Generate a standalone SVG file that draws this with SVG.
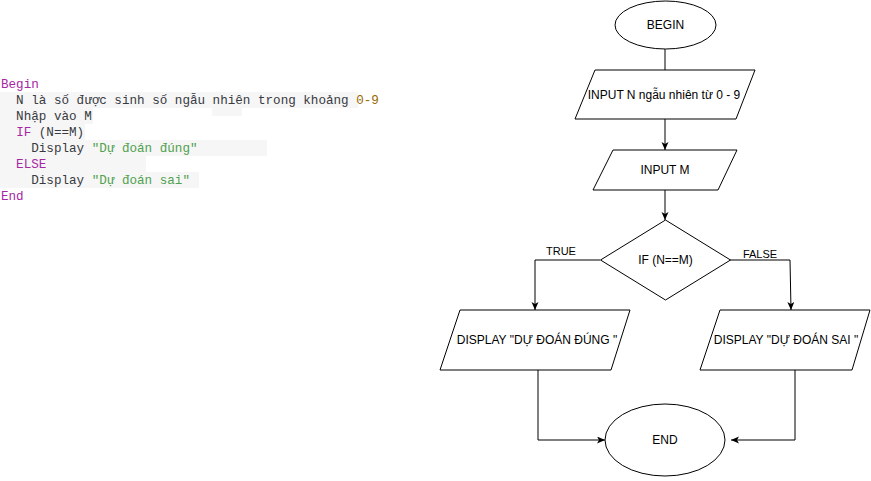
<svg xmlns="http://www.w3.org/2000/svg" width="871" height="481" viewBox="0 0 871 481">
<style>
.code{font-family:"Liberation Mono","DejaVu Sans Mono",monospace;font-size:12.6px;fill:#383a42;white-space:pre}
.kw{fill:#a626a4}.str{fill:#50a14f}.num{fill:#986801}
.bg{fill:#f6f6f6}
.shape{fill:#ffffff;stroke:#000000;stroke-width:1}
.lbl{font-family:"Liberation Sans",Arial,sans-serif;font-size:12px;fill:#000000;text-anchor:middle}
.edge{fill:none;stroke:#000000;stroke-width:1}
.elbl{font-family:"Liberation Sans",Arial,sans-serif;font-size:11px;fill:#000000;text-anchor:middle}
</style>
<defs>
<marker id="arr" markerUnits="userSpaceOnUse" markerWidth="10" markerHeight="10" refX="8" refY="3.5" orient="auto">
<path d="M0,0 L8,3.5 L0,7 L2,3.5 z" fill="#000000"/>
</marker>
</defs>
<rect width="871" height="481" fill="#ffffff"/>
<g id="pseudocode">
<rect class="bg" x="0" y="92" width="358" height="16"/>
<rect class="bg" x="0" y="108" width="93" height="16"/>
<rect class="bg" x="212" y="107" width="30" height="9"/>
<rect class="bg" x="0" y="124" width="85" height="16"/>
<rect class="bg" x="0" y="140" width="267" height="16"/>
<rect class="bg" x="0" y="156" width="146" height="16"/>
<rect class="bg" x="0" y="172" width="199" height="16"/>
<text class="code kw" x="1" y="88">Begin</text>
<text class="code" x="1" y="104" xml:space="preserve">  N l&#xE0; s&#x1ED1; &#x111;&#x1B0;&#x1EE3;c sinh s&#x1ED1; ng&#x1EAB;u nhi&#xEA;n trong kho&#x1EA3;ng <tspan class="num">0-9</tspan></text>
<text class="code" x="1" y="120" xml:space="preserve">  Nh&#x1EAD;p v&#xE0;o M</text>
<text class="code" x="1" y="136" xml:space="preserve">  <tspan class="kw">IF</tspan> (N==M)</text>
<text class="code" x="1" y="152" xml:space="preserve">    Display <tspan class="str">"D&#x1EF1; &#x111;o&#xE1;n &#x111;&#xFA;ng"</tspan></text>
<text class="code kw" x="1" y="168" xml:space="preserve">  ELSE</text>
<text class="code" x="1" y="184" xml:space="preserve">    Display <tspan class="str">"D&#x1EF1; &#x111;o&#xE1;n sai"</tspan></text>
<text class="code kw" x="1" y="200">End</text>
</g>
<g id="connectors">
<path class="edge" d="M665,49 L665,70"/>
<path class="edge" d="M665,119 L665,150" marker-end="url(#arr)"/>
<path class="edge" d="M665,190 L665,220" marker-end="url(#arr)"/>
<path class="edge" d="M600,260 L535,260 L535,310" marker-end="url(#arr)"/>
<path class="edge" d="M730,260 L790,260 L791,310" marker-end="url(#arr)"/>
<path class="edge" d="M538,370 L538,440 L605,440" marker-end="url(#arr)"/>
<path class="edge" d="M795,370 L795,440 L731,440" marker-end="url(#arr)"/>
<text class="elbl" x="561" y="255">TRUE</text>
<text class="elbl" x="760" y="258">FALSE</text>
</g>
<g id="begin">
<ellipse class="shape" cx="665.5" cy="25" rx="50.5" ry="24"/>
<text class="lbl" x="665.5" y="29">BEGIN</text>
</g>
<g id="inputN">
<polygon class="shape" points="595,70 755,70 736,119 575,119"/>
<text class="lbl" x="664" y="99">INPUT N ng&#x1EAB;u nhi&#xEA;n t&#x1EEB; 0 - 9</text>
</g>
<g id="inputM">
<polygon class="shape" points="613,150 737,150 718,190 593,190"/>
<text class="lbl" x="665" y="174">INPUT M</text>
</g>
<g id="decision">
<polygon class="shape" points="665.5,220 730.5,260 665.5,300 600.5,260"/>
<text class="lbl" x="665.5" y="264">IF (N==M)</text>
</g>
<g id="displayTrue">
<polygon class="shape" points="460,310 630,310 611,370 440,370"/>
<text class="lbl" x="537" y="344">DISPLAY "D&#x1EF0; &#x110;O&#xC1;N &#x110;&#xDA;NG "</text>
</g>
<g id="displayFalse">
<polygon class="shape" points="720,310 870,310 852,370 700,370"/>
<text class="lbl" x="786" y="344">DISPLAY "D&#x1EF0; &#x110;O&#xC1;N SAI "</text>
</g>
<g id="end">
<ellipse class="shape" cx="665" cy="440" rx="60" ry="36"/>
<text class="lbl" x="665" y="444">END</text>
</g>
</svg>
